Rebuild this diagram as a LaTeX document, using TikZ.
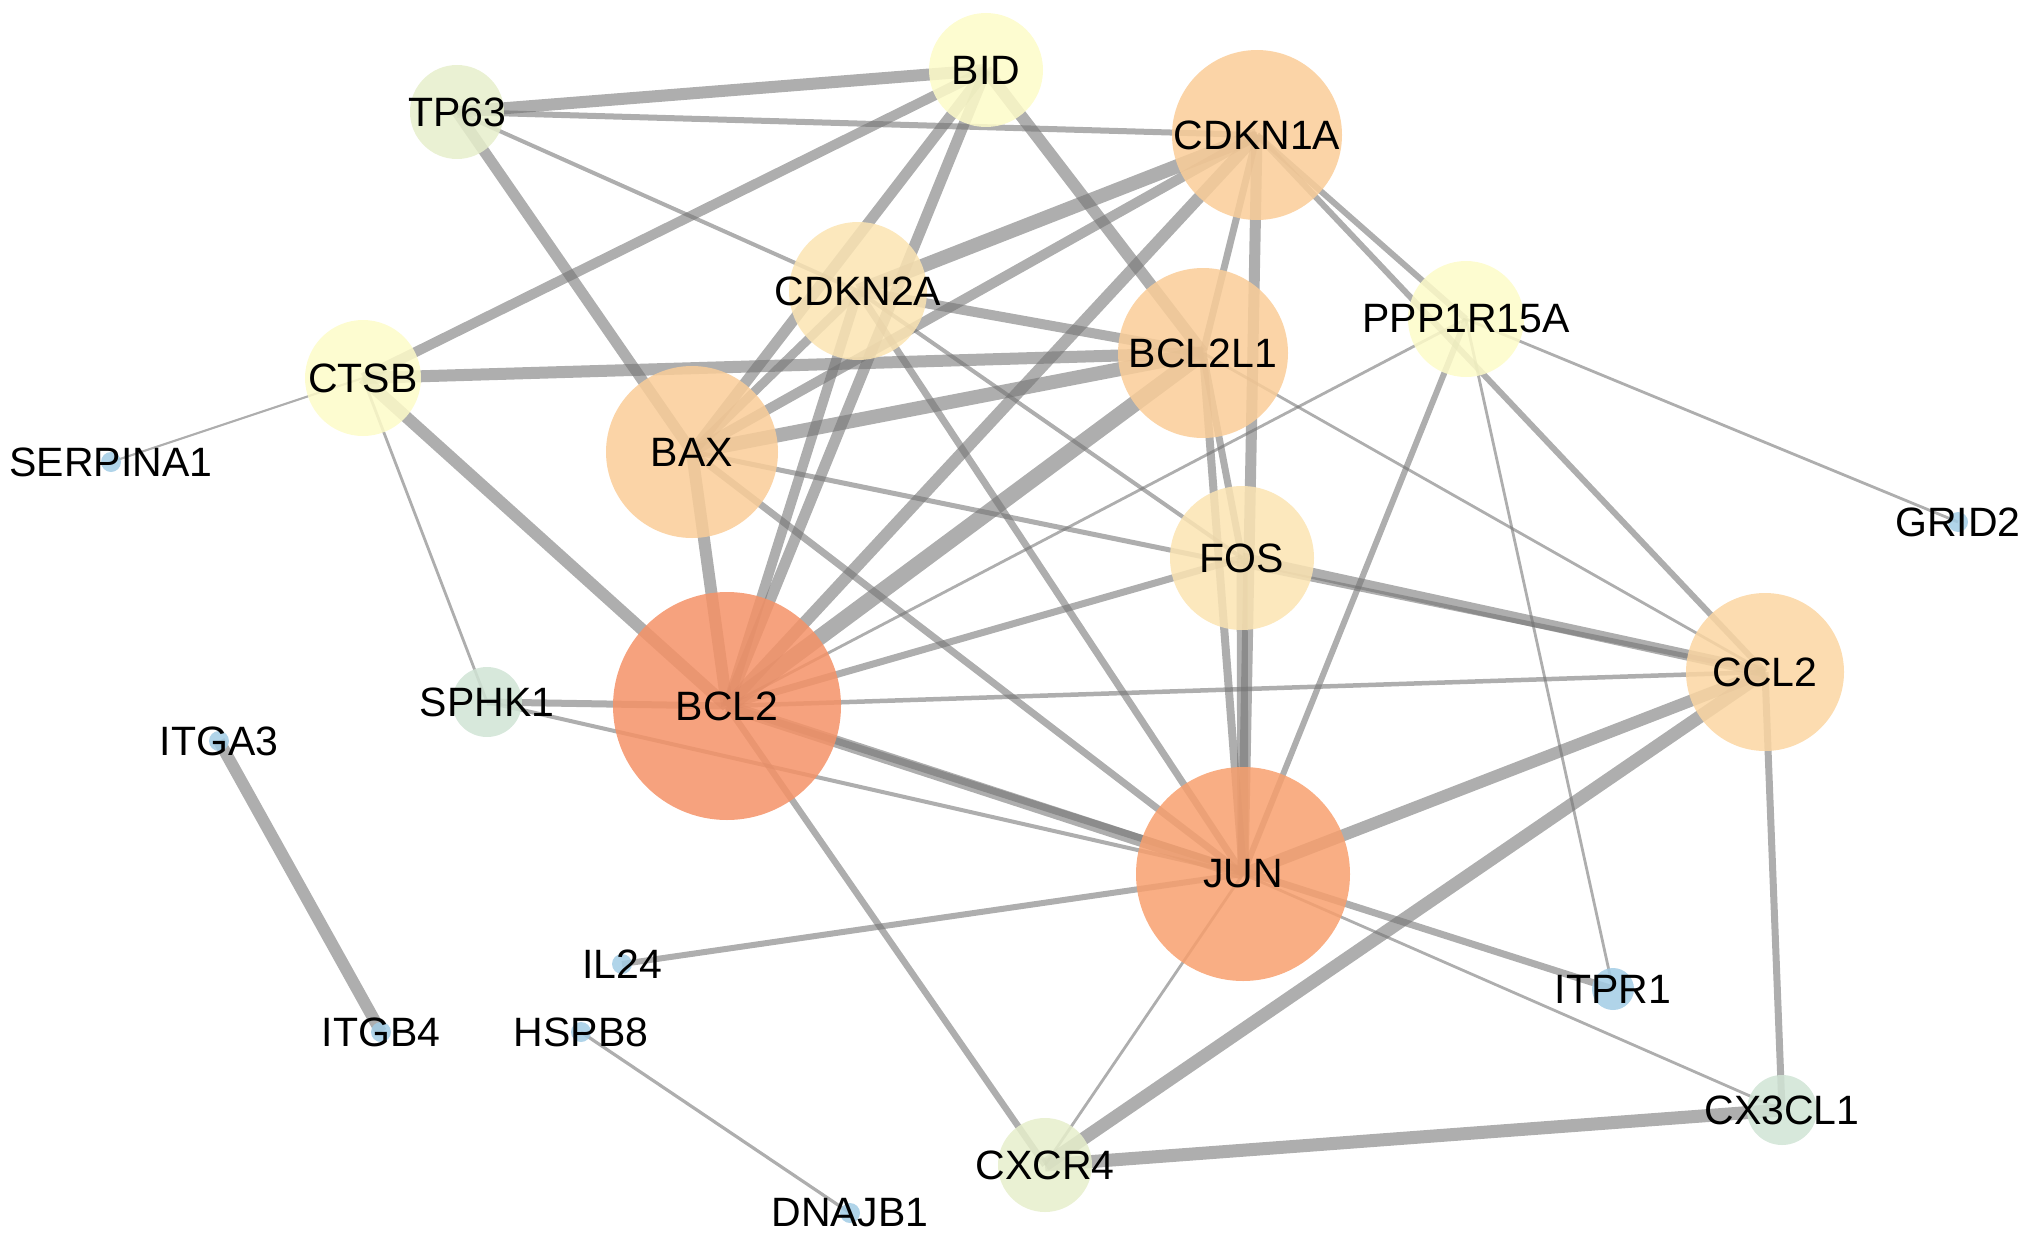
\documentclass[tikz,border=0pt]{standalone}
\usepackage{fontspec}
\setmainfont{Liberation Sans}
\pgfdeclarelayer{bg}
\pgfsetlayers{bg,main}
\definecolor{edgegray}{RGB}{115,115,115}
\definecolor{cSalmon}{RGB}{245,146,103}
\definecolor{cJun}{RGB}{248,160,110}
\definecolor{cPeach}{RGB}{250,205,152}
\definecolor{cPeachL}{RGB}{251,214,162}
\definecolor{cWheat}{RGB}{251,228,178}
\definecolor{cYellow}{RGB}{253,251,200}
\definecolor{cGreen}{RGB}{230,238,203}
\definecolor{cMint}{RGB}{208,228,213}
\definecolor{cBlue}{RGB}{162,204,229}
\tikzset{
  nd/.style={circle, inner sep=0pt, fill opacity=0.85, draw=none},
  lbl/.style={inner sep=0pt, font=\fontsize{41}{45}\selectfont, text=black},
  edge/.style={line width=#1, draw=edgegray, draw opacity=0.58}
}
\newcommand\gnode[6]{%
  \node[nd, minimum size=#4pt, fill=#5] (#1) at (#2,#3) {};
  \node[lbl] (#1-l) at (#1.center) {#6};
}
\begin{document}
\begin{tikzpicture}[x=1pt,y=-1pt]
\useasboundingbox (0,0) rectangle (2031,1239);
\gnode{BID}{986}{70}{114}{cYellow}{BID}
\gnode{TP63}{457}{112}{94}{cGreen}{TP63}
\gnode{CDKN1A}{1257}{135}{170}{cPeach}{CDKN1A}
\gnode{CDKN2A}{858}{291}{138}{cWheat}{CDKN2A}
\gnode{BCL2L1}{1203}{353}{170}{cPeach}{BCL2L1}
\gnode{PPP1R15A}{1466}{319}{116}{cYellow}{PPP1R15A}
\gnode{CTSB}{363}{378}{116}{cYellow}{CTSB}
\gnode{SERPINA1}{111}{462}{20}{cBlue}{SERPINA1}
\gnode{BAX}{692}{452}{172}{cPeach}{BAX}
\gnode{GRID2}{1958}{522}{20}{cBlue}{GRID2}
\gnode{FOS}{1242}{558}{144}{cWheat}{FOS}
\gnode{CCL2}{1765}{672}{158}{cPeachL}{CCL2}
\gnode{SPHK1}{487}{702}{70}{cMint}{SPHK1}
\gnode{BCL2}{727}{706}{228}{cSalmon}{BCL2}
\gnode{ITGA3}{219}{741}{20}{cBlue}{ITGA3}
\gnode{JUN}{1243}{874}{214}{cJun}{JUN}
\gnode{IL24}{622}{964}{20}{cBlue}{IL24}
\gnode{ITPR1}{1613}{989}{42}{cBlue}{ITPR1}
\gnode{ITGB4}{381}{1032}{20}{cBlue}{ITGB4}
\gnode{HSPB8}{581}{1032}{20}{cBlue}{HSPB8}
\gnode{CXthree}{1782}{1110}{70}{cMint}{CX3CL1}
\gnode{CXCR4}{1045}{1165}{94}{cGreen}{CXCR4}
\gnode{DNAJB1}{850}{1213}{20}{cBlue}{DNAJB1}
\begin{pgfonlayer}{bg}
\draw[edge=12pt] (TP63.center) -- (BID.center);
\draw[edge=6pt] (TP63.center) -- (CDKN1A.center);
\draw[edge=4pt] (TP63.center) -- (CDKN2A.center);
\draw[edge=11pt] (TP63.center) -- (BAX.center);
\draw[edge=10pt] (BID.center) -- (CTSB.center);
\draw[edge=11pt] (BID.center) -- (BAX.center);
\draw[edge=11pt] (BID.center) -- (BCL2.center);
\draw[edge=12pt] (BID.center) -- (BCL2L1.center);
\draw[edge=12pt] (CTSB.center) -- (BCL2L1.center);
\draw[edge=2.2pt] (CTSB.center) -- (SERPINA1.center);
\draw[edge=12pt] (CTSB.center) -- (BCL2.center);
\draw[edge=2.8pt] (CTSB.center) -- (SPHK1.center);
\draw[edge=14pt] (CDKN1A.center) -- (CDKN2A.center);
\draw[edge=10pt] (CDKN1A.center) -- (BAX.center);
\draw[edge=12pt] (CDKN1A.center) -- (BCL2.center);
\draw[edge=7pt] (CDKN1A.center) -- (BCL2L1.center);
\draw[edge=11pt] (CDKN1A.center) -- (JUN.center);
\draw[edge=6pt] (CDKN1A.center) -- (PPP1R15A.center);
\draw[edge=6pt] (CDKN1A.center) -- (CCL2.center);
\draw[edge=9pt] (CDKN2A.center) -- (BAX.center);
\draw[edge=10pt] (CDKN2A.center) -- (BCL2.center);
\draw[edge=10pt] (CDKN2A.center) -- (BCL2L1.center);
\draw[edge=7pt] (CDKN2A.center) -- (JUN.center);
\draw[edge=4pt] (CDKN2A.center) -- (FOS.center);
\draw[edge=12pt] (BAX.center) -- (BCL2.center);
\draw[edge=14pt] (BAX.center) -- (BCL2L1.center);
\draw[edge=5pt] (BAX.center) -- (CCL2.center);
\draw[edge=7pt] (BAX.center) -- (JUN.center);
\draw[edge=16pt] (BCL2L1.center) -- (BCL2.center);
\draw[edge=7pt] (BCL2L1.center) -- (FOS.center);
\draw[edge=8pt] (BCL2L1.center) -- (JUN.center);
\draw[edge=2.8pt] (BCL2L1.center) -- (CCL2.center);
\draw[edge=2.8pt] (PPP1R15A.center) -- (BCL2.center);
\draw[edge=6pt] (PPP1R15A.center) -- (JUN.center);
\draw[edge=2.8pt] (PPP1R15A.center) -- (GRID2.center);
\draw[edge=2.8pt] (PPP1R15A.center) -- (ITPR1.center);
\draw[edge=7pt] (FOS.center) -- (BCL2.center);
\draw[edge=11pt] (FOS.center) -- (JUN.center);
\draw[edge=11pt] (FOS.center) -- (CCL2.center);
\draw[edge=4.5pt] (BCL2.center) -- (CCL2.center);
\draw[edge=12pt] (BCL2.center) -- (JUN.center);
\draw[edge=7pt] (BCL2.center) -- (SPHK1.center);
\draw[edge=6.5pt] (BCL2.center) -- (CXCR4.center);
\draw[edge=7pt] (BCL2.center) -- (ITPR1.center);
\draw[edge=4pt] (SPHK1.center) -- (JUN.center);
\draw[edge=12pt] (ITGA3.center) -- (ITGB4.center);
\draw[edge=6pt] (JUN.center) -- (IL24.center);
\draw[edge=12pt] (JUN.center) -- (CCL2.center);
\draw[edge=2.8pt] (JUN.center) -- (CXCR4.center);
\draw[edge=2.8pt] (JUN.center) -- (CXthree.center);
\draw[edge=13pt] (CCL2.center) -- (CXCR4.center);
\draw[edge=7pt] (CCL2.center) -- (CXthree.center);
\draw[edge=13pt] (CXCR4.center) -- (CXthree.center);
\draw[edge=3.2pt] (HSPB8.center) -- (DNAJB1.center);
\end{pgfonlayer}
\end{tikzpicture}
\end{document}
